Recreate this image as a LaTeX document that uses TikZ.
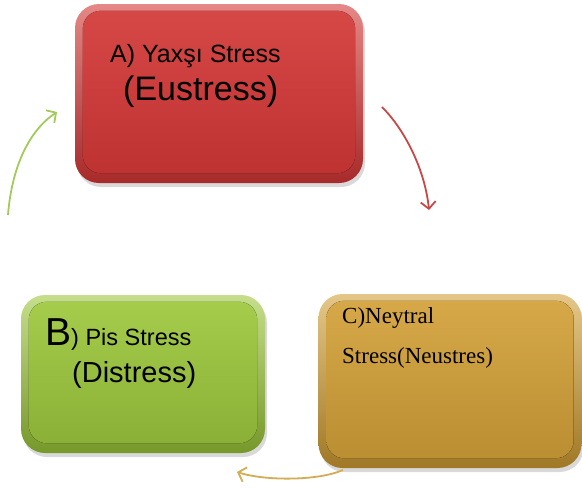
\documentclass[tikz,border=0pt]{standalone}
\usepackage{fontspec}
\setmainfont{Liberation Sans}
\newfontfamily\timesfont{Liberation Serif}
\usetikzlibrary{shadows,arrows.meta}

\definecolor{redtop}{RGB}{214,72,70}
\definecolor{redbot}{RGB}{190,50,50}
\definecolor{redrim}{RGB}{168,42,42}
\definecolor{greentop}{RGB}{166,204,76}
\definecolor{greenbot}{RGB}{138,176,54}
\definecolor{greenrim}{RGB}{118,152,42}
\definecolor{goldtop}{RGB}{214,168,72}
\definecolor{goldbot}{RGB}{186,142,50}
\definecolor{goldrim}{RGB}{160,120,38}
\definecolor{greenarrow}{RGB}{162,202,92}
\definecolor{redarrow}{RGB}{200,72,72}
\definecolor{goldarrow}{RGB}{212,172,84}

\begin{document}
\begin{tikzpicture}
    [x=1pt,y=-1pt,
    box/.style={rounded corners=24pt, inner sep=0pt,
      drop shadow={opacity=0.3,shadow xshift=2pt,shadow yshift=-4pt}},
    face/.style={rounded corners=18pt},
    txt/.style={anchor=base west, inner sep=0pt},
    curve/.style={line width=1.8pt, -{Straight Barb[length=7pt,width=15pt]}}]
    \useasboundingbox (0,0) rectangle (582,488);

    % the three boxes
    \node[box, minimum width=288pt, minimum height=179pt,
      top color=redtop!65!white, bottom color=redrim] (yaxsi) at (219,93.5) {};
    \fill[face, top color=redtop, bottom color=redbot]
      ([shift={(8,7)}]yaxsi.north west) rectangle ([shift={(-8,-10)}]yaxsi.south east);

    \node[box, minimum width=244pt, minimum height=158pt,
      top color=greentop!65!white, bottom color=greenrim] (pis) at (143,374) {};
    \fill[face, top color=greentop, bottom color=greenbot]
      ([shift={(8,7)}]pis.north west) rectangle ([shift={(-8,-10)}]pis.south east);

    \node[box, minimum width=263pt, minimum height=174pt,
      top color=goldtop!65!white, bottom color=goldrim] (neytral) at (450,381) {};
    \fill[face, top color=goldtop, bottom color=goldbot]
      ([shift={(8,7)}]neytral.north west) rectangle ([shift={(-8,-10)}]neytral.south east);

    % texts
    \node[txt] (yaxsi1) at (110,62) {\fontsize{25}{25}\selectfont A) Yaxşı Stress};
    \node[txt] (yaxsi2) at (123,100) {\fontsize{34}{34}\selectfont (Eustress)};
    \node[txt] (pis1) at (45,345)
      {{\fontsize{39}{39}\selectfont B}{\fontsize{23.5}{23.5}\selectfont) Pis Stress}};
    \node[txt] (pis2) at (72,382) {\fontsize{29}{29}\selectfont (Distress)};
    \node[txt] (neytral1) at (342,323) {\timesfont\fontsize{23}{23}\selectfont C)Neytral};
    \node[txt] (neytral2) at (342,363) {\timesfont\fontsize{23}{23}\selectfont Stress(Neustres)};

    % curved arrows
    \coordinate (g0) at (8,215);
    \coordinate (g1) at (57,112);
    \coordinate (r0) at (382,107);
    \coordinate (r1) at (429,210);
    \coordinate (y0) at (343,470);
    \coordinate (y1) at (237,472);
    \draw[curve, greenarrow] (g0) .. controls (12,165) and (30,130) .. (g1);
    \draw[curve, redarrow] (r0) .. controls (405,130) and (425,170) .. (r1);
    \draw[curve, goldarrow] (y0) .. controls (318,481) and (265,481) .. (y1);
  \end{tikzpicture}
\end{document}
